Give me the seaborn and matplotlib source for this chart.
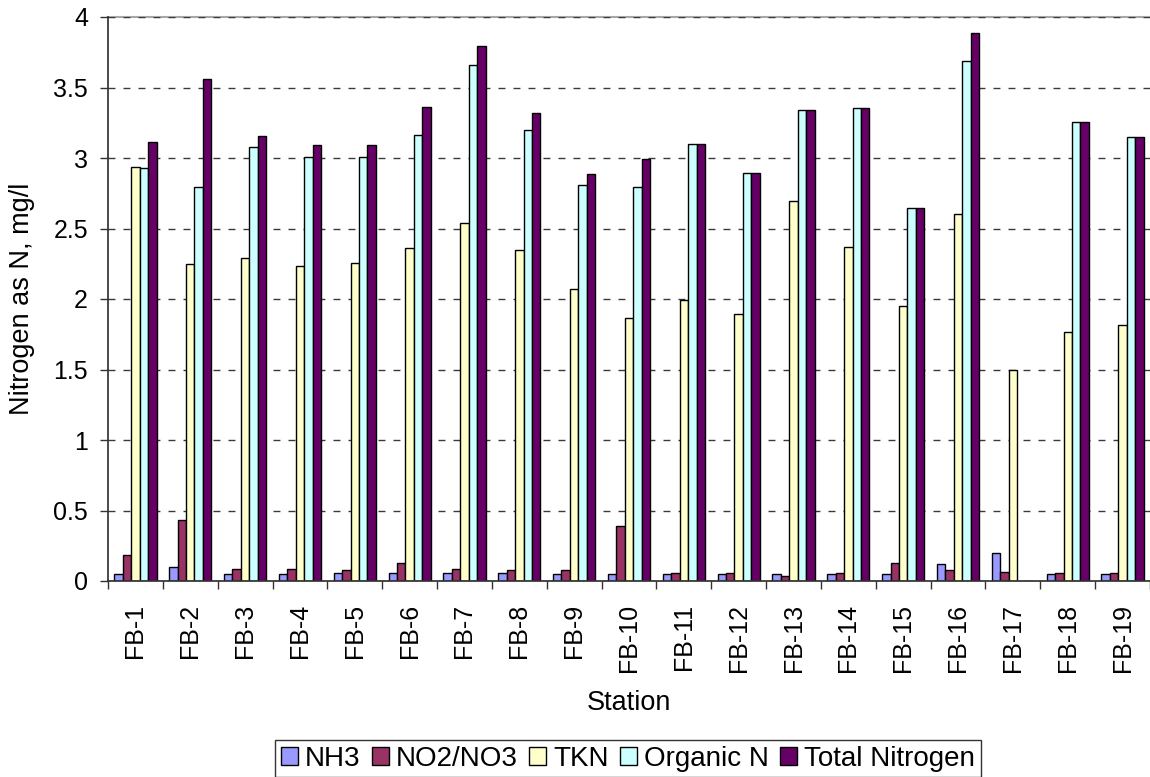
import matplotlib
matplotlib.use("Agg")
import matplotlib.pyplot as plt
import numpy as np
import pandas as pd
import seaborn as sns

sns.set_theme(style="white")
plt.rcParams["font.family"] = ["Liberation Sans", "DejaVu Sans"]
plt.rcParams["text.color"] = "black"
plt.rcParams["axes.labelcolor"] = "black"
plt.rcParams["xtick.color"] = "black"
plt.rcParams["ytick.color"] = "black"

stations = [f"FB-{i}" for i in range(1, 20)]

nh3 = [0.05, 0.10, 0.05, 0.05, 0.055, 0.055, 0.057, 0.055, 0.05, 0.05,
       0.05, 0.05, 0.05, 0.05, 0.05, 0.122, 0.196, 0.05, 0.05]
no2_no3 = [0.185, 0.43, 0.087, 0.087, 0.08, 0.13, 0.087, 0.08, 0.08, 0.39,
           0.055, 0.055, 0.035, 0.057, 0.128, 0.079, 0.062, 0.057, 0.057]
tkn = [2.935, 2.247, 2.293, 2.236, 2.258, 2.36, 2.54, 2.345, 2.07, 1.864,
       1.99, 1.897, 2.696, 2.37, 1.95, 2.606, 1.497, 1.764, 1.818]
organic_n = [2.927, 2.793, 3.076, 3.008, 3.008, 3.16, 3.66, 3.20, 2.807, 2.793,
             3.098, 2.897, 3.34, 3.356, 2.647, 3.69, np.nan, 3.258, 3.147]
total_n = [3.117, 3.56, 3.158, 3.09, 3.09, 3.364, 3.796, 3.32, 2.888, 2.99,
           3.098, 2.897, 3.34, 3.356, 2.647, 3.889, np.nan, 3.258, 3.147]

series = ["NH3", "NO2/NO3", "TKN", "Organic N", "Total Nitrogen"]
colors = ["#9999FF", "#993366", "#FFFFCC", "#CCFFFF", "#660066"]

df = pd.DataFrame({
    "Station": stations,
    "NH3": nh3,
    "NO2/NO3": no2_no3,
    "TKN": tkn,
    "Organic N": organic_n,
    "Total Nitrogen": total_n,
})
long_df = df.melt(id_vars="Station", var_name="series", value_name="value")

fig = plt.figure(figsize=(11.5, 7.77), dpi=100)
ax = fig.add_axes([108 / 1150, 1 - 581 / 777, 1 - 108 / 1150, (581 - 17) / 777])

sns.barplot(
    data=long_df, x="Station", y="value", hue="series",
    hue_order=series, palette=colors, order=stations,
    width=0.77, gap=0, edgecolor="black", linewidth=1,
    errorbar=None, ax=ax, saturation=1, legend=False,
)

ax.set_xlim(-0.5, len(stations) - 0.5)
ax.set_ylim(0, 4)
ax.set_yticks(np.arange(0, 4.01, 0.5))
ax.set_yticklabels(["0", "0.5", "1", "1.5", "2", "2.5", "3", "3.5", "4"])
ax.yaxis.grid(True, color="#3a3a3a", linestyle=(0, (5, 5.8)), linewidth=1)
ax.set_axisbelow(True)
# plot-area top border (grey) under the 4.0 dashed line
ax.axhline(4, color="#a8a8a8", linewidth=1.5, zorder=0.5, clip_on=False)

for s in ["top", "right"]:
    ax.spines[s].set_visible(False)
ax.spines["left"].set_color("#333333")
ax.spines["bottom"].set_color("#333333")

ax.tick_params(axis="y", left=True, length=5.8, width=1, color="#333333",
               labelsize=18, pad=8.6)
ax.tick_params(axis="x", which="major", length=0, labelsize=18, pad=16.5,
               labelrotation=90)
ax.set_xticks(np.arange(-0.5, len(stations), 1), minor=True)
ax.tick_params(axis="x", which="minor", bottom=True, length=5.8, width=1,
               color="#333333")

ax.set_xlabel("Station", fontsize=19.5, labelpad=13)
ax.set_ylabel("Nitrogen as N, mg/l", fontsize=19.5, labelpad=13)

handles = [plt.Rectangle((0, 0), 1, 1, facecolor=c, edgecolor="black", linewidth=1)
           for c in colors]
leg = fig.legend(
    handles, series, loc="upper center", bbox_to_anchor=(628 / 1150, 1 - 740 / 777),
    ncol=5, fontsize=20, frameon=True, fancybox=False,
    handlelength=0.62, handleheight=0.62, handletextpad=0.25,
    columnspacing=0.4, borderpad=0.2, borderaxespad=0.0,
)
leg.get_frame().set_edgecolor("black")
leg.get_frame().set_linewidth(1)

fig.savefig("out.png", dpi=100)
